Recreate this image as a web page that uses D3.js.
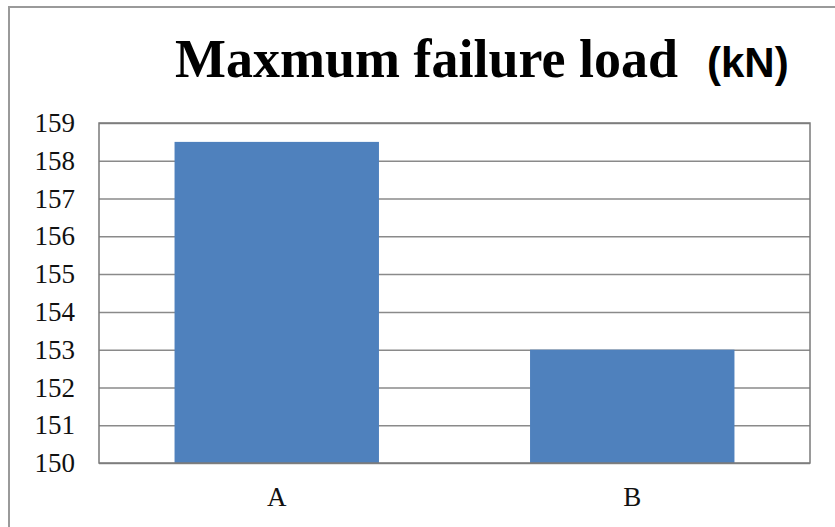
<!DOCTYPE html>
<html>
<head>
<meta charset="utf-8">
<script src="https://cdn.jsdelivr.net/npm/d3@7"></script>
<style>
  body { margin: 0; background: #fff; }
  svg { display: block; }
</style>
</head>
<body>
<svg width="835" height="527"></svg>
<script>
'use strict';

// datos
var categorias = ["A", "B"];
var valores = [158.5, 153];
var ticksY = [150, 151, 152, 153, 154, 155, 156, 157, 158, 159];
var titulo = "Maxmum failure load";
var unidad = "(kN)";

var svg = d3.select("svg"),
  margin = { top: 123, right: 25, bottom: 64, left: 99 },
  width = +svg.attr("width") - margin.left - margin.right,
  height = +svg.attr("height") - margin.top - margin.bottom;

var serif = "'Liberation Serif', 'Times New Roman', serif";

// marco exterior
svg.append("rect")
  .attr("x", 9).attr("y", 7)
  .attr("width", 840).attr("height", 540)
  .attr("fill", "#fff")
  .attr("stroke", "#9a9a9a")
  .attr("stroke-width", 2);

var x = d3.scaleBand().domain(categorias).range([0, width])
    .paddingInner(0.425).paddingOuter(0.2125),
  y = d3.scaleLinear().domain([150, 159]).range([height, 0]);

var g = svg.append("g")
  .attr("transform", "translate(" + margin.left + "," + margin.top + ")");

// lineas de cuadricula
g.append("g")
  .attr("class", "grid")
  .call(d3.axisLeft(y).tickValues(ticksY).tickSize(-width).tickFormat(""))
  .call(function (s) {
    s.select(".domain").remove();
    s.selectAll("line").attr("stroke", "#8a8a8a").attr("stroke-width", 1.5);
  });

g.selectAll(".bar")
  .data(valores)
  .enter().append("rect")
  .attr("class", "bar")
  .attr("x", function (d, i) { return x(categorias[i]); })
  .attr("y", function (d) { return y(d); })
  .attr("width", x.bandwidth())
  .attr("height", function (d) { return height - y(d); })
  .attr("fill", "#4f81bd");

// borde del area de trazado
g.append("rect")
  .attr("width", width).attr("height", height)
  .attr("fill", "none")
  .attr("stroke", "#7a7a7a")
  .attr("stroke-width", 1.5);

// eje y
g.append("g")
  .call(d3.axisLeft(y).tickValues(ticksY).tickSize(0).tickPadding(24).tickFormat(d3.format("d")))
  .call(function (s) {
    s.select(".domain").remove();
    s.selectAll("text")
      .style("font-family", serif)
      .style("font-size", "27px")
      .attr("fill", "#111");
  });

// eje x
g.append("g")
  .attr("transform", "translate(0," + height + ")")
  .call(d3.axisBottom(x).tickSize(0).tickPadding(24))
  .call(function (s) {
    s.select(".domain").remove();
    s.selectAll("text")
      .style("font-family", serif)
      .style("font-size", "27px")
      .attr("fill", "#111");
  });

// titulo
svg.append("text")
  .attr("x", 175).attr("y", 77)
  .style("font-family", serif)
  .style("font-weight", "bold")
  .style("font-size", "54px")
  .attr("fill", "#000")
  .text(titulo);
svg.append("text")
  .attr("x", 707).attr("y", 77)
  .style("font-family", "'Liberation Sans', Arial, sans-serif")
  .style("font-weight", "bold")
  .style("font-size", "42px")
  .attr("fill", "#000")
  .text(unidad);
</script>
</body>
</html>
